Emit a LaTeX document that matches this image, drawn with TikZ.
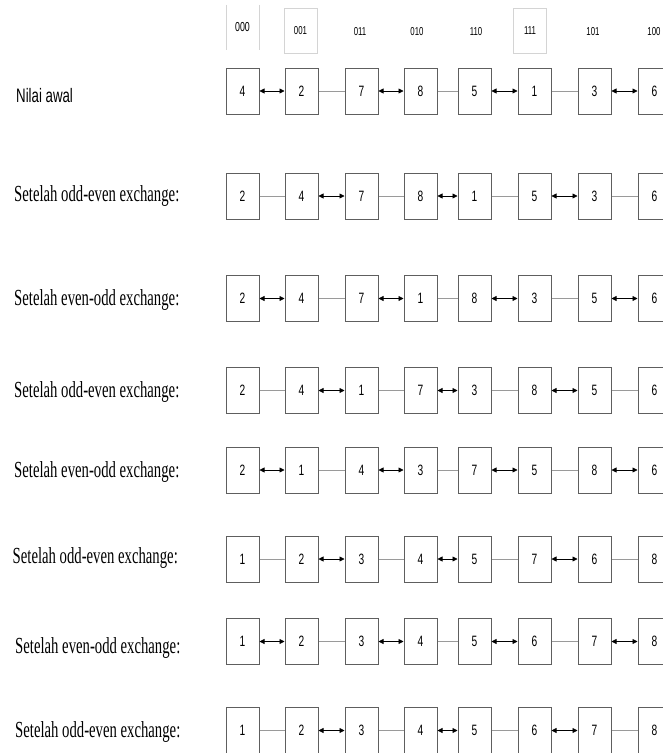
\documentclass[tikz,border=0pt]{standalone}
\usepackage{fontspec}
\usetikzlibrary{arrows.meta}
\newfontfamily\lblfont[FakeStretch=0.64]{Liberation Serif}
\newfontfamily\numfont[FakeStretch=0.68]{Liberation Sans}
\definecolor{boxc}{HTML}{5E5E5E}
\definecolor{wirec}{HTML}{9A9A9A}
\definecolor{hdrc}{HTML}{D4D4D4}
\tikzset{
  pe/.style={draw=boxc,line width=1pt,minimum width=33pt,minimum height=46pt,inner sep=0pt,
    font=\numfont\fontsize{15}{15}\selectfont},
  link0/.style={<->,line width=0.8pt},  % tukar
  link1/.style={draw=wirec,line width=1pt},
  hdr/.style={inner sep=0pt,minimum width=33pt,minimum height=45pt,font=\numfont\fontsize{11.5}{11.5}\selectfont},
  rowlbl/.style={anchor=base west,inner sep=0pt,font=\lblfont\fontsize{23}{23}\selectfont}
}
\begin{document}
\begin{tikzpicture}[x=1pt,y=-1pt,>={Triangle[length=5pt,width=5pt]}]
  \useasboundingbox (0,0) rectangle (662,753);
  % alamat prosesor
  \node[hdr,font=\numfont\fontsize{13}{13}\selectfont] (h000) at (242.5,27.5) {000};
  \draw[hdrc] (h000.north west) -- (h000.south west) (h000.north east) -- (h000.south east);
  \node[hdr,draw=hdrc] (h001) at (300.5,30.5) {001};
  \node[hdr,draw=hdrc] (h111) at (530,30.5) {111};
  \foreach \t/\x in {011/360,010/417,110/476,101/593,100/654}
    \node[hdr] (h\t) at (\x,32) {\t};
  % label baris
  \node[rowlbl,font=\numfont\fontsize{19.5}{19.5}\selectfont] (l1) at (16,102) {Nilai awal};
  \foreach \r/\x/\y/\t in {2/14/201/odd-even,3/14/305/even-odd,4/14/397/odd-even,5/14/477/even-odd,
      6/12.5/563/odd-even,7/15/653/even-odd,8/15/737/odd-even}
    \node[rowlbl] (l\r) at (\x,\y) {Setelah \t\ exchange:};
  % isi tiap langkah
  \foreach \r/\y/\vals in {1/91/{4,2,7,8,5,1,3,6},2/196/{2,4,7,8,1,5,3,6},3/298.5/{2,4,7,1,8,3,5,6},
      4/390.5/{2,4,1,7,3,8,5,6},5/470/{2,1,4,3,7,5,8,6},6/559/{1,2,3,4,5,7,6,8},
      7/641.5/{1,2,3,4,5,6,7,8},8/730.5/{1,2,3,4,5,6,7,8}} {
    \foreach \v [count=\c] in \vals {
      \pgfmathsetmacro\xc{{242.5,301.5,361.5,420.5,474.5,534.5,594.5,654.5}[\c-1]}
      \node[pe] (r\r c\c) at (\xc,\y) {\v};
    }
    \foreach \c [evaluate=\c as \n using {int(\c+1)},evaluate=\c as \k using {int(mod(\c+\r,2))}] in {1,...,7}
      \draw[link\k] (r\r c\c) -- (r\r c\n);
  }
\end{tikzpicture}
\end{document}
